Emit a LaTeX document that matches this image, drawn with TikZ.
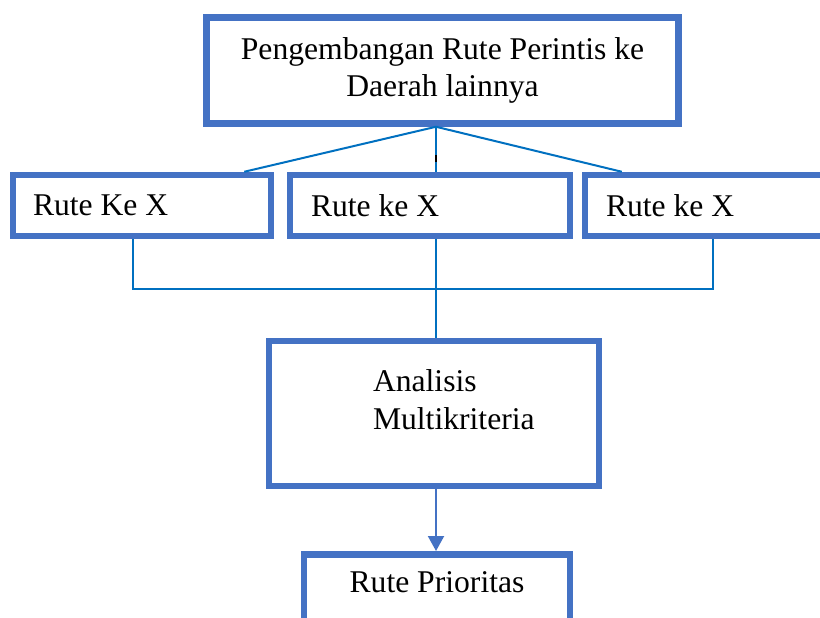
\documentclass[tikz,border=0pt]{standalone}
\usepackage{fontspec}
\setmainfont{Liberation Serif}
\usetikzlibrary{arrows.meta}
\definecolor{biru}{HTML}{4472C4}
\definecolor{garisbiru}{HTML}{0070C0}
\tikzset{
	kotak/.style={draw=biru, line width=0.13cm, rectangle, font=\fontsize{18}{21.5}\selectfont},
	garis/.style={draw=garisbiru, line width=0.04cm}
}

\begin{document}
\begin{tikzpicture}
	\useasboundingbox (0,0) rectangle (16.4,-12.34);
	\clip (0,0) rectangle (16.4,-12.34);
	% kotak atas
	\node[kotak, minimum width=9.44cm, minimum height=2.12cm, align=center] (atas) at (8.85,-1.41)
		{Pengembangan Rute Perintis ke\\Daerah lainnya};
	% tiga rute
	\node[kotak, minimum height=1.22cm, inner xsep=0.4cm, text width=4.36cm, align=flush left] (rute1) at (2.84,-4.11) {Rute Ke X};
	\node[kotak, minimum height=1.22cm, inner xsep=0.42cm, text width=4.76cm, align=flush left] (rute2) at (8.60,-4.11) {Rute ke X};
	\node[kotak, minimum height=1.22cm, inner xsep=0.42cm, text width=4.38cm, align=flush left] (rute3) at (14.31,-4.11) {Rute ke X};
	% analisis
	\node[kotak, minimum width=6.6cm, minimum height=2.9cm, inner xsep=0.1cm, text width=6.4cm, inner ysep=0.36cm, text depth=1.30cm, align=flush left] (analisis) at (8.68,-8.27)
		{\hspace*{1.98cm}Analisis\\\hspace*{1.98cm}Multikriteria};
	\node[kotak, minimum width=5.32cm, inner ysep=0.34cm, text depth=1.2cm, align=center, anchor=north] (prioritas) at (8.74,-11.02) {Rute Prioritas};

	\coordinate (pusat) at ([xshift=-0.13cm]atas.south);
	\draw[garis] (pusat) -- ([xshift=-0.6cm]rute1.north east);
	\draw[garis] (pusat) -- (pusat |- rute2.north);
	\draw[garis] (pusat) -- ([xshift=0.8cm]rute3.north west);
	\draw[black, line width=0.04cm] (8.72,-3.10) -- (8.72,-3.24);
	% gabungan
	\draw[garis] ([xshift=-0.18cm]rute1.south) -- ++(0,-1.0) -| ([xshift=-0.05cm]rute3.south);
	\draw[garis] (pusat |- rute2.south) -- (pusat |- analisis.north);
	\draw[draw=biru, line width=0.04cm, -{Triangle[width=0.32cm,length=0.3cm]}] (pusat |- analisis.south) -- (pusat |- prioritas.north);
\end{tikzpicture}
\end{document}
